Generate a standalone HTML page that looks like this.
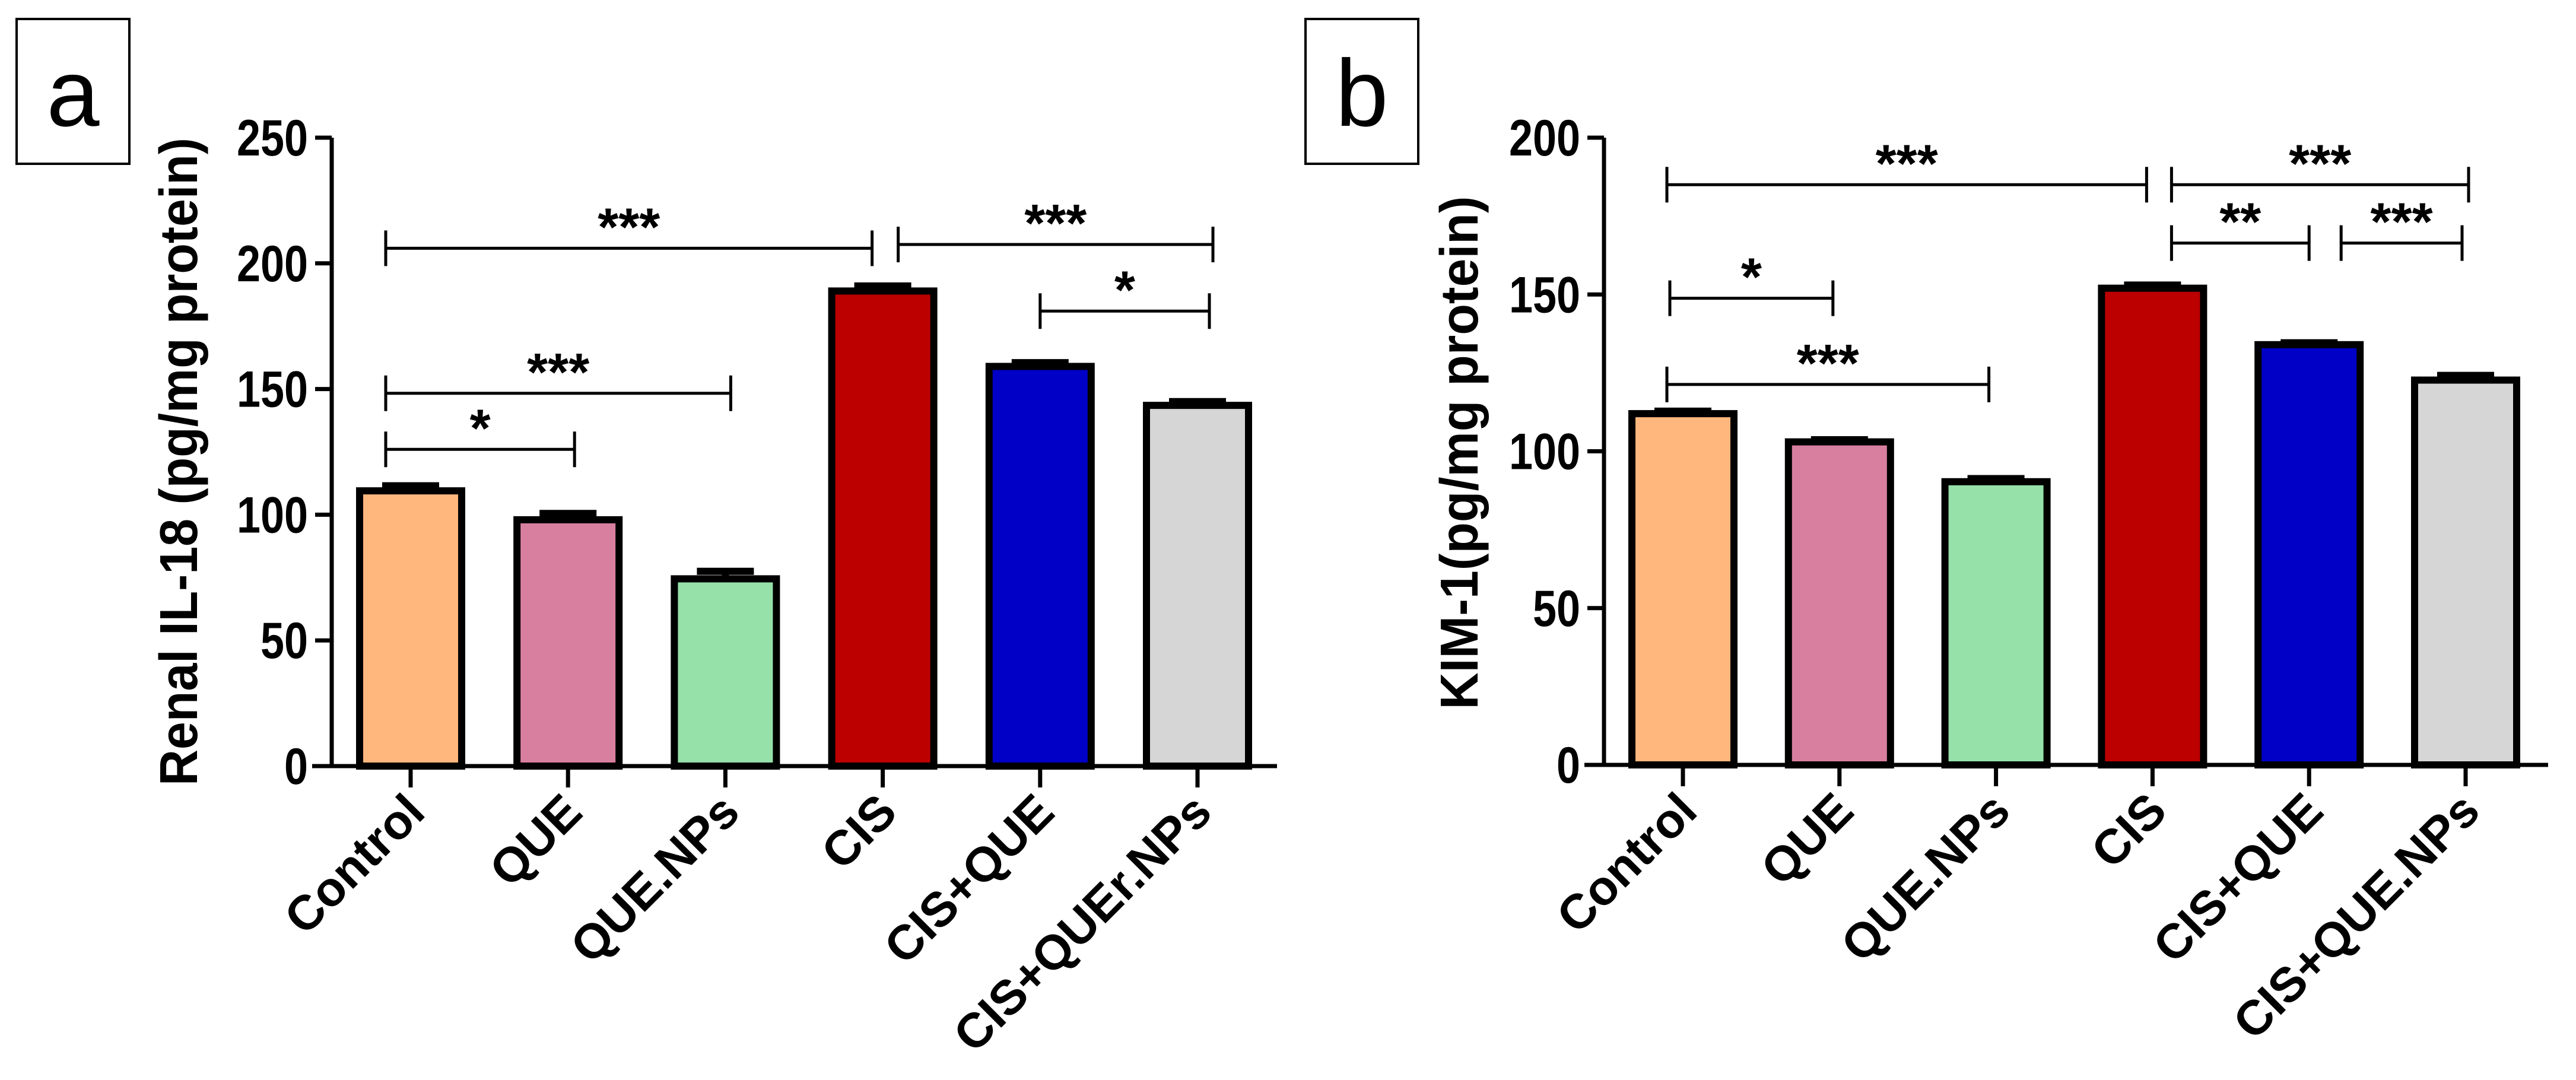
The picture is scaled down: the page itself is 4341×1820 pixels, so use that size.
<!DOCTYPE html>
<html><head><meta charset="utf-8"><style>
html,body{margin:0;padding:0;background:#fff;overflow:hidden;}
svg{display:block;font-family:"Liberation Sans",Arial,sans-serif;}
</style></head><body>
<svg id="c" width="4341" height="1820" viewBox="0 0 4341 1820" xmlns="http://www.w3.org/2000/svg"></svg>
<script>
const categoriesA = ["Control","QUE","QUE.NPs","CIS","CIS+QUE","CIS+QUEr.NPs"];
const valuesA = [109.5, 98, 74.5, 189, 159, 143.5];
const errorsA = [2, 2.5, 3, 2, 1.5, 1.5];
const ticksA = [0,50,100,150,200,250];
const categoriesB = ["Control","QUE","QUE.NPs","CIS","CIS+QUE","CIS+QUE.NPs"];
const valuesB = [112, 103, 90.3, 152, 134, 122.7];
const errorsB = [0.8, 0.7, 1, 1, 0.6, 1.5];
const ticksB = [0,50,100,150,200];
const colors = ["#FFB77D","#D87FA0","#96E0AA","#BC0000","#0000C6","#D6D6D6"];
// brackets: [fromIndex, toIndex, value level, stars]
const bracketsA = [[0,3,206,"***"],[3,5,207.5,"***"],[4,5,181,"*"],[0,2,148.3,"***"],[0,1,126,"*"]];
const bracketsB = [[0,3,185,"***"],[3,5,185,"***"],[3,4,166.4,"**"],[4,5,166.4,"***"],[0,1,148.8,"*"],[0,2,121.3,"***"]];
// bracket end pixel nudges (layout only)
const nudgeA = [[-42,-18],[26,26],[0,20],[-42,9],[-42,11]];
const nudgeB = [[-27,-10],[32,5],[32,0],[54,-6],[-22,-11],[-27,-12]];

const svg = document.getElementById('c');
const NS = "http://www.w3.org/2000/svg";
function mk(tag, attrs, parent){const e=document.createElementNS(NS,tag);for(const k in attrs)e.setAttribute(k,attrs[k]);(parent||svg).appendChild(e);return e;}

function panel(p){
  const g = mk('g',{});
  
  
  const y = v => p.y0 - (v/p.max)*(p.y0-p.yTop);
  const x = i => p.x0 + i*p.step;
  const bx = mk('rect',{x:p.boxX,y:32,width:190,height:244,fill:'none',stroke:'#000','stroke-width':4},g);
  
  
  const bt = mk('text',{x:p.boxX+95,y:212,'font-size':160,'text-anchor':'middle',fill:'#000'},g);
  bt.textContent = p.id;
  
  
  p.vals.forEach((v,i)=>{
    const cx=x(i), w=172;
    const r = mk('rect',{x:cx-w/2,y:y(v),width:w,height:p.y0-y(v),fill:colors[i],stroke:'#000','stroke-width':12},g);
    
    
    const e=p.errs[i];
    const el = mk('path',{d:`M${cx} ${y(v)} V${y(v+e)} M${cx-48} ${y(v+e)} H${cx+48}`,stroke:'#000','stroke-width':12,fill:'none'},g);
    
    
  });
  const ax = mk('path',{d:`M${p.axL} ${p.y0} H${p.axR} M${p.axX} ${p.y0} V${p.yTop}`,stroke:'#000','stroke-width':7,fill:'none'},g);
  
  
  p.ticks.forEach(t=>{
    const tk = mk('line',{x1:p.axX-28,x2:p.axX,y1:y(t),y2:y(t),stroke:'#000','stroke-width':7},g);
    
    
    const tl = mk('text',{x:p.axX-40,y:y(t)+30,'font-size':86,'font-weight':'bold','text-anchor':'end',fill:'#000',textLength:(String(t).length*40),lengthAdjust:'spacingAndGlyphs'},g);
    tl.textContent=t;
    
    
  });
  p.cats.forEach((c,i)=>{
    const cx=x(i);
    const tk = mk('line',{x1:cx,x2:cx,y1:p.y0,y2:p.y0+36,stroke:'#000','stroke-width':7},g);
    
    
    const tl = mk('text',{x:cx+28,y:p.y0+82,'font-size':82,'font-weight':'bold','text-anchor':'end',fill:'#000',transform:`rotate(-45 ${cx+28} ${p.y0+82})`},g);
    tl.textContent=c;
    
    
  });
  const yt = mk('text',{x:p.titleX,y:p.titleY,'font-size':90,'font-weight':'bold','text-anchor':'middle',fill:'#000',textLength:p.titleLen,lengthAdjust:'spacingAndGlyphs',transform:`rotate(-90 ${p.titleX} ${p.titleY})`},g);
  yt.textContent=p.title;
  
  
  p.br.forEach((b,k)=>{
    const x1=x(b[0])+p.nudge[k][0], x2=x(b[1])+p.nudge[k][1];
    const by=y(b[2]);
    const bg = mk('path',{d:`M${x1} ${by-30} V${by+30} M${x1} ${by} H${x2} M${x2} ${by-30} V${by+30}`,stroke:'#000','stroke-width':5,fill:'none'},g);
    
    
    const st = mk('text',{x:(x1+x2)/2,y:by-5,'font-size':90,'font-weight':'bold','text-anchor':'middle',fill:'#000'},g);
    st.textContent=b[3];
    
    
  });
}
panel({id:'a',boxX:28,cats:categoriesA,vals:valuesA,errs:errorsA,ticks:ticksA,max:250,y0:1291,yTop:232,x0:692,step:265.2,axX:559,axL:526,axR:2152,title:'Renal IL-18 (pg/mg protein)',titleX:332,titleY:778,titleLen:1092,br:bracketsA,nudge:nudgeA});
panel({id:'b',boxX:2200,cats:categoriesB,vals:valuesB,errs:errorsB,ticks:ticksB,max:200,y0:1289,yTop:232,x0:2836,step:263.8,axX:2703,axL:2670,axR:4294,title:'KIM-1(pg/mg protein)',titleX:2490,titleY:763,titleLen:865,br:bracketsB,nudge:nudgeB});
</script>
</body></html>
